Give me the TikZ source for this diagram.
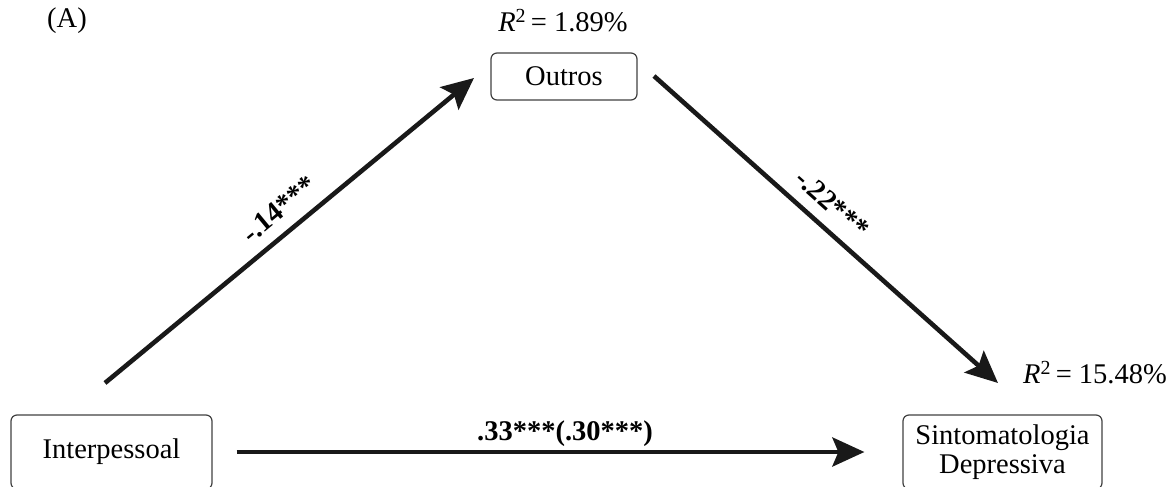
\documentclass[tikz,border=0pt]{standalone}
\usepackage{fontspec}
\setmainfont{Liberation Serif}
\usetikzlibrary{arrows.meta}
\tikzset{
  box/.style={draw=black!75, line width=1.2pt, rounded corners=6pt, inner sep=0pt, font=\fontsize{28.5}{31}\selectfont, align=center},
  path/.style={line width=4.6pt, draw=black!90, -{Stealth[length=32pt,width=29pt,inset=6pt]}},
  lbl/.style={font=\fontsize{28.5}{31}\selectfont, inner sep=0pt},
  coef/.style={font=\fontsize{28.5}{31}\selectfont\bfseries, inner sep=0pt}
}
\begin{document}
\begin{tikzpicture}[x=1pt,y=-1pt]
\useasboundingbox (0,0) rectangle (1176,487);
% boxes
\node[box, minimum width=146pt, minimum height=47pt] (out) at (564,76.5) {Outros};
\node[box, minimum width=201pt, minimum height=74pt] (int) at (111.5,452) {Interpessoal};
\node[box, minimum width=199pt, minimum height=74pt] (sin) at (1002.5,452) {Sintomatologia\\[-2pt]Depressiva};
% labels
\node[lbl] (A) at (67,21) {(A)};
\node[lbl] (r1) at (563,21) {\textit{R}\textsuperscript{2}\,= 1.89\%};
\node[lbl] (r2) at (1095,373) {\textit{R}\textsuperscript{2}\,= 15.48\%};
% connector ends
\coordinate (a1) at (105,383);
\coordinate (a2) at (474,78);
\coordinate (b1) at (654,76);
\coordinate (b2) at (998,383);
\draw[path] (a1) -- (a2);
\draw[path] (b1) -- (b2);
\draw[path, shorten <=24pt, shorten >=38pt] (int.east) -- (sin.west);
% coefficients
\node[coef, rotate=39.6] (c1) at (279,209) {-.14***};
\node[coef, rotate=-41.7] (c2) at (832,204) {-.22***};
\node[coef] (c3) at (565,434) {.33***(.30***)};
\end{tikzpicture}
\end{document}
